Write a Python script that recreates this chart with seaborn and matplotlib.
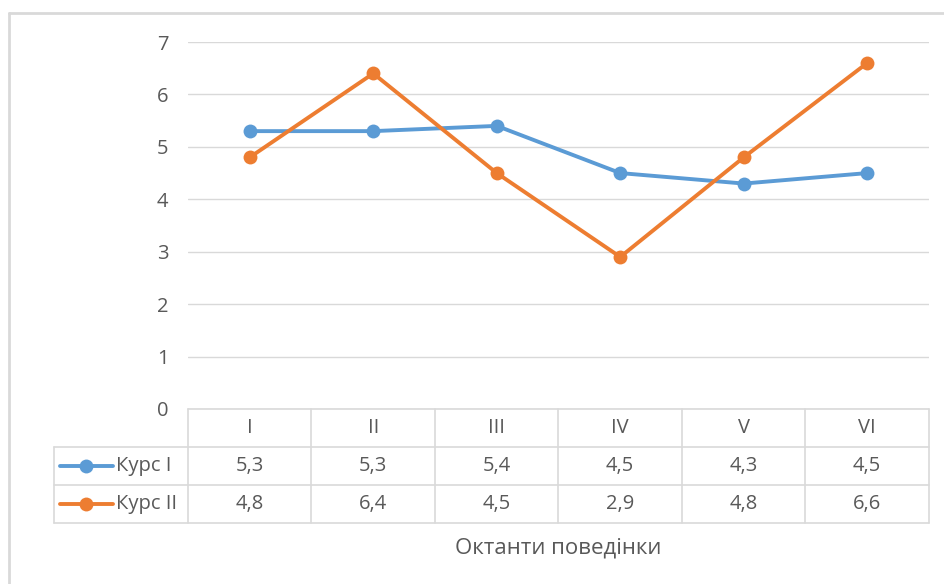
import numpy as np
import pandas as pd
import seaborn as sns
import matplotlib.pyplot as plt
import matplotlib.transforms as mtransforms
from matplotlib.lines import Line2D

octants = ['I', 'II', 'III', 'IV', 'V', 'VI']
course1 = [5.3, 5.3, 5.4, 4.5, 4.3, 4.5]
course2 = [4.8, 6.4, 4.5, 2.9, 4.8, 6.6]
series_names = ['Курс I', 'Курс II']
colors = ['#5B9BD5', '#ED7D31']

df = pd.DataFrame({'Октант': octants * 2,
                   'value': course1 + course2,
                   'series': [series_names[0]] * 6 + [series_names[1]] * 6})

sns.set_style('white')
plt.rcParams['font.family'] = ['Open Sans', 'DejaVu Sans']
txt = '#595959'
grid = '#d9d9d9'
fs = 14.5

fig = plt.figure(figsize=(9.45, 5.84), dpi=100)
ax = fig.add_axes([188/945, 1-409/584, 741/945, 367/584])

sns.lineplot(data=df, x='Октант', y='value', hue='series', palette=colors,
             marker='o', markersize=10, markeredgewidth=0, linewidth=2.8,
             sort=False, legend=False, ax=ax)

ax.set_xlim(-0.5, 5.5)
ax.set_ylim(0, 7)
ax.set_yticks(range(8))
ax.yaxis.grid(True, color=grid, linewidth=1)
ax.set_axisbelow(True)
for s in ax.spines.values():
    s.set_visible(False)
ax.set_xticks([])
ax.set_xlabel('')
ax.set_ylabel('')
ax.tick_params(axis='y', length=0, labelsize=fs, labelcolor=txt, pad=14)

# data table under the axes (x in data units, y in axes fraction)
tr = mtransforms.blended_transform_factory(ax.transData, ax.transAxes)
rh = 38 / 367
left = -0.5 - 134 / 123.5
lkw = dict(color=grid, linewidth=1.2, transform=tr, clip_on=False)
ax.plot([-0.5, 5.5], [0, 0], **lkw)
for k in (1, 2, 3):
    ax.plot([left, 5.5], [-k*rh, -k*rh], **lkw)
for i in range(7):
    ax.plot([i-0.5, i-0.5], [0, -3*rh], **lkw)
ax.plot([left, left], [-rh, -3*rh], **lkw)

for i, lab in enumerate(octants):
    ax.text(i, -0.5*rh, lab, transform=tr, ha='center', va='center',
            fontsize=fs, color=txt)
for r, (vals, name, c) in enumerate(zip([course1, course2], series_names, colors)):
    yc = -(r + 1.5) * rh
    for i, v in enumerate(vals):
        ax.text(i, yc, f'{v:.1f}'.replace('.', ','), transform=tr,
                ha='center', va='center', fontsize=fs, color=txt)
    x0 = left + 6/123.5
    ax.add_line(Line2D([x0, x0 + 53/123.5], [yc, yc], color=c, linewidth=2.8,
                       transform=tr, clip_on=False))
    ax.add_line(Line2D([x0 + 26.5/123.5], [yc], color=c, marker='o',
                       markersize=10, markeredgewidth=0, transform=tr,
                       clip_on=False))
    ax.text(x0 + 56/123.5, yc, name, transform=tr, ha='left', va='center',
            fontsize=fs, color=txt)

fig.text(558/945, 1-548/584, 'Октанти поведінки', ha='center', va='center',
         fontsize=16, color=txt)

# chart area border (top and left edges visible)
fig.add_artist(Line2D([9/945, 1], [1-13/584, 1-13/584], color=grid, linewidth=2,
                      transform=fig.transFigure))
fig.add_artist(Line2D([9/945, 9/945], [0, 1-13/584], color=grid, linewidth=2,
                      transform=fig.transFigure))

plt.savefig('out.png', dpi=100)
plt.close()
